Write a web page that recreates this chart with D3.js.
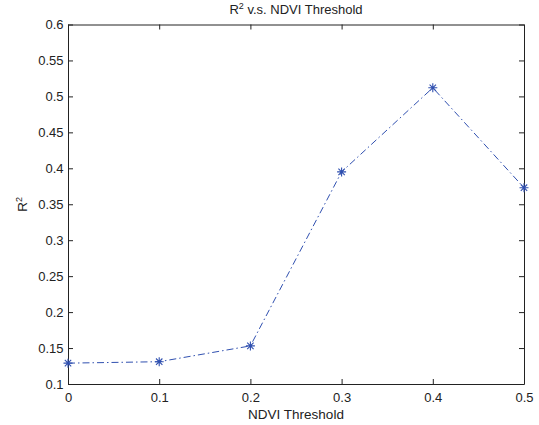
<!DOCTYPE html>
<html>
<head>
<meta charset="utf-8">
<script src="https://cdn.jsdelivr.net/npm/d3@7"></script>
<style>
body { margin: 0; background: #fff; }
text { font-family: Helvetica, Arial, "Liberation Sans", sans-serif; fill: #222; }
</style>
</head>
<body>
<div id="chart"></div>
<script>
// data
var thresholds = [0, 0.1, 0.2, 0.3, 0.4, 0.5];
var r2Values = [0.129, 0.131, 0.153, 0.395, 0.512, 0.373];
var xTicks = [0, 0.1, 0.2, 0.3, 0.4, 0.5];
var yTicks = [0.1, 0.15, 0.2, 0.25, 0.3, 0.35, 0.4, 0.45, 0.5, 0.55, 0.6];

var margin = {top: 24.5, right: 15, bottom: 41, left: 68};
var width = 539 - margin.left - margin.right,
    height = 425 - margin.top - margin.bottom;

var svg = d3.select("#chart").append("svg")
    .attr("width", 539)
    .attr("height", 425)
    .append("g")
    .attr("transform", "translate(" + margin.left + "," + margin.top + ")");

var xScale = d3.scaleLinear().domain([0, 0.5]).range([0, width]);
var yScale = d3.scaleLinear().domain([0.1, 0.6]).range([height, 0]);

var fmt = function(d) { return String(+d.toFixed(2)); };

// bottom + left axes with inward ticks
svg.append("g")
    .attr("class", "axis")
    .attr("transform", "translate(0," + height + ")")
    .call(d3.axisBottom(xScale).tickValues(xTicks).tickSizeInner(-5).tickSizeOuter(0).tickPadding(8.3).tickFormat(fmt));

svg.append("g")
    .attr("class", "axis")
    .call(d3.axisLeft(yScale).tickValues(yTicks).tickSizeInner(-5).tickSizeOuter(0).tickPadding(4.5).tickFormat(fmt));

// top + right axes, ticks only
svg.append("g")
    .attr("class", "axis")
    .call(d3.axisTop(xScale).tickValues(xTicks).tickSizeInner(-5).tickSizeOuter(0).tickFormat(""));

svg.append("g")
    .attr("class", "axis")
    .attr("transform", "translate(" + width + ",0)")
    .call(d3.axisRight(yScale).tickValues(yTicks).tickSizeInner(-5).tickSizeOuter(0).tickFormat(""));

svg.selectAll(".axis path, .axis line").attr("stroke", "#222").attr("stroke-width", 1);
svg.selectAll(".axis text").attr("font-size", 13).attr("fill", "#222")
    .style("font-family", "Helvetica, Arial, 'Liberation Sans', sans-serif");

var pts = thresholds.map(function(t, i) { return {x: t, y: r2Values[i]}; });

var line = d3.line()
    .x(function(d) { return xScale(d.x); })
    .y(function(d) { return yScale(d.y); });

svg.append("path")
    .datum(pts)
    .attr("fill", "none")
    .attr("stroke", "#3050b0")
    .attr("stroke-width", 1)
    .attr("stroke-dasharray", "7,3,1.5,3")
    .attr("d", line);

// asterisk markers
var star = svg.selectAll(".pt").data(pts).enter().append("g")
    .attr("class", "pt")
    .attr("transform", function(d) { return "translate(" + xScale(d.x) + "," + yScale(d.y) + ")"; });

star.append("path")
    .attr("d", "M-4.5,0H4.5M0,-4.5V4.5M-3.2,-3.2L3.2,3.2M-3.2,3.2L3.2,-3.2")
    .attr("stroke", "#3050b0")
    .attr("stroke-width", 1.1)
    .attr("fill", "none");

// title and labels
var title = svg.append("text")
    .attr("x", width / 2)
    .attr("y", -11)
    .attr("text-anchor", "middle")
    .attr("font-size", 13);
title.append("tspan").text("R");
title.append("tspan").attr("font-size", 9).attr("dy", -5).text("2");
title.append("tspan").attr("dy", 5).text(" v.s. NDVI Threshold");

svg.append("text")
    .attr("x", width / 2)
    .attr("y", height + 35)
    .attr("text-anchor", "middle")
    .attr("font-size", 13.5)
    .text("NDVI Threshold");

var yl = svg.append("text")
    .attr("transform", "translate(-41," + (height / 2) + ") rotate(-90)")
    .attr("text-anchor", "middle")
    .attr("font-size", 13.5);
yl.append("tspan").text("R");
yl.append("tspan").attr("font-size", 9).attr("dy", -5).text("2");
</script>
</body>
</html>
